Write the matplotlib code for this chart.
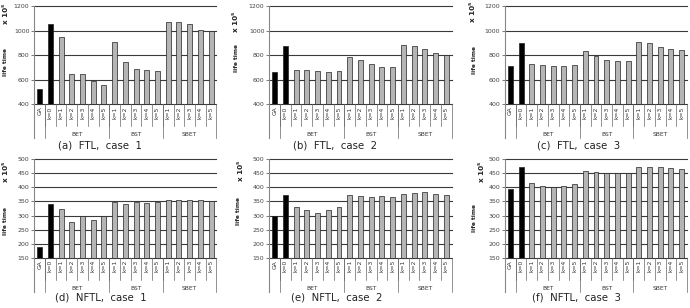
import numpy as np
import matplotlib.pyplot as plt

# categories
cat_labels = ['GA', 'k=0'] + ['k=1', 'k=2', 'k=3', 'k=4', 'k=5'] * 3
groups = ['BET', 'BST', 'SBET']

# life time values (x 10^5)
ftl_case1 = [521, 1051, 951, 649, 646, 587, 560, 911, 741, 687, 676, 668, 1070, 1070, 1051, 1005, 1000]
ftl_case2 = [659, 876, 681, 676, 668, 659, 668, 781, 760, 727, 703, 703, 886, 873, 849, 819, 805]
ftl_case3 = [711, 900, 727, 716, 708, 711, 716, 830, 795, 762, 749, 754, 908, 897, 870, 851, 843]
nftl_case1 = [190, 342, 322, 276, 297, 285, 298, 348, 341, 348, 343, 348, 355, 355, 355, 355, 353]
nftl_case2 = [300, 371, 330, 318, 310, 318, 331, 372, 368, 365, 370, 365, 376, 380, 385, 376, 372]
nftl_case3 = [395, 470, 416, 403, 402, 405, 410, 457, 453, 450, 451, 451, 472, 473, 471, 468, 463]

ftl_ticks = [400, 600, 800, 1000, 1200]
nftl_ticks = [150, 200, 250, 300, 350, 400, 450, 500]

captions = ['(a)  FTL,  case  1', '(b)  FTL,  case  2', '(c)  FTL,  case  3',
            '(d)  NFTL,  case  1', '(e)  NFTL,  case  2', '(f)  NFTL,  case  3']

W, H = 690, 308
fig = plt.figure(figsize=(W / 100, H / 100), dpi=100)


def add_ax(left, right, top, bottom):
    return fig.add_axes([left / W, 1 - bottom / H, (right - left) / W, (bottom - top) / H])


def draw_panel(ax, vals, ticks, height_px):
    n = len(vals)
    x = np.arange(n)
    colors = ['black', 'black'] + ['#b5b5b5'] * (n - 2)
    ax.bar(x, vals, width=0.46, color=colors, edgecolor='#222222', linewidth=0.5, zorder=3)
    ax.set_xlim(-0.5, n - 0.5)
    ax.set_ylim(ticks[0], ticks[-1])
    ax.set_yticks(ticks)
    ax.tick_params(axis='y', labelsize=4.5, length=2, width=0.5, pad=1.5, colors='#444444')
    ax.set_xticks([])
    for t in ticks:
        ax.axhline(t, color='#3a3a3a', lw=0.8, zorder=1, clip_on=False)
    for s in ['top', 'right', 'bottom']:
        ax.spines[s].set_visible(False)
    ax.spines['left'].set_color('#888888')
    ax.spines['left'].set_linewidth(0.8)

    tr = ax.get_xaxis_transform()
    row1 = -22 / height_px
    row2 = -34 / height_px
    # left spine extension
    ax.plot([-0.5, -0.5], [0, row2], transform=tr, color='#888888', lw=0.8, clip_on=False)
    # category labels and short separators
    for i, lab in enumerate(cat_labels):
        ax.text(i, -2 / height_px, lab, transform=tr, rotation=90, ha='center', va='top',
                fontsize=4.3, color='#333333')
    for b in np.arange(0.5, n - 0.5, 1.0):
        ax.plot([b, b], [0, row1], transform=tr, color='#666666', lw=0.5, clip_on=False)
    # group separators
    bounds = [0.5, 6.5, 11.5, 16.5]
    for b in bounds:
        ax.plot([b, b], [0, row2], transform=tr, color='#666666', lw=0.5, clip_on=False)
    for g, (a, b) in zip(groups, zip(bounds[:-1], bounds[1:])):
        ax.text((a + b) / 2, -30 / height_px, g, transform=tr, ha='center', va='center',
                fontsize=4.3, color='#333333')


cols = [(34.3, 216.4), (269.3, 451.6), (505, 687)]
top_rows = [(6, 104.3), (159, 258)]
data = [ftl_case1, ftl_case2, ftl_case3, nftl_case1, nftl_case2, nftl_case3]
cap_x = [100, 335, 579, 101, 337, 576]
cap_y = [145, 145, 145, 298, 298, 298]
unit_pos = [(6, 14), (236, 22), (473, 12), (6, 172), (241, 171), (482, 172)]
life_pos = [(6, 62), (236, 58), (475, 60), (6, 221), (239, 211), (475, 218)]

for k in range(6):
    r, c = divmod(k, 3)
    top, bottom = top_rows[r]
    ax = add_ax(cols[c][0], cols[c][1], top, bottom)
    ticks = ftl_ticks if r == 0 else nftl_ticks
    draw_panel(ax, data[k], ticks, bottom - top)
    fig.text(cap_x[k] / W, 1 - cap_y[k] / H, captions[k], ha='center', va='center',
             fontsize=7.3, color='#222222')
    ux, uy = unit_pos[k]
    fig.text(ux / W, 1 - uy / H, 'x 10\u2075', rotation=90, ha='center', va='center',
             fontsize=5.2, fontweight='bold', color='#222222')
    lx, ly = life_pos[k]
    fig.text(lx / W, 1 - ly / H, 'life time', rotation=90, ha='center', va='center',
             fontsize=4.2, fontweight='bold', color='#222222')

fig.savefig('out.png', dpi=100)
